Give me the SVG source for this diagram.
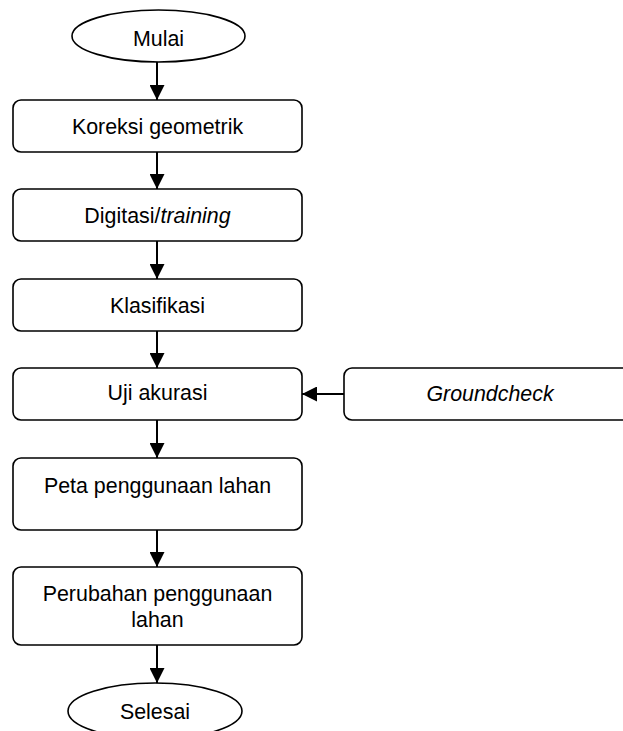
<svg xmlns="http://www.w3.org/2000/svg" width="623" height="731" viewBox="0 0 623 731">
<style>
.box{fill:#fff;stroke:#000;stroke-width:1.6}
.t{font-family:"Liberation Sans",Arial,sans-serif;font-size:21.4px;fill:#000;text-anchor:middle}
.i{font-style:italic}
.c{stroke:#000;stroke-width:2;fill:none}
</style>
<defs>
<marker id="ah" markerUnits="userSpaceOnUse" markerWidth="16" markerHeight="15" refX="15" refY="7.5" orient="auto">
<path d="M0,0 L15,7.5 L0,15 z" fill="#000"/>
</marker>
</defs>
<rect width="623" height="731" fill="#fff"/>
<g id="connectors">
<line class="c" x1="157" y1="62" x2="157" y2="100" marker-end="url(#ah)"/>
<line class="c" x1="157" y1="152" x2="157" y2="189" marker-end="url(#ah)"/>
<line class="c" x1="157" y1="241" x2="157" y2="279" marker-end="url(#ah)"/>
<line class="c" x1="157" y1="331" x2="157" y2="368" marker-end="url(#ah)"/>
<line class="c" x1="157" y1="420" x2="157" y2="458" marker-end="url(#ah)"/>
<line class="c" x1="157" y1="530" x2="157" y2="567" marker-end="url(#ah)"/>
<line class="c" x1="157" y1="645" x2="157" y2="683" marker-end="url(#ah)"/>
<line class="c" x1="344" y1="394" x2="302" y2="394" marker-end="url(#ah)"/>
</g>
<g id="mulai">
<ellipse class="box" cx="158.5" cy="36" rx="86.5" ry="26"/>
<text class="t" x="158.5" y="46">Mulai</text>
</g>
<g id="koreksi">
<rect class="box" x="13" y="100" width="289" height="52" rx="8"/>
<text class="t" x="157.5" y="133.5">Koreksi geometrik</text>
</g>
<g id="digitasi">
<rect class="box" x="13" y="189" width="289" height="52" rx="8"/>
<text class="t" x="157.5" y="222.5">Digitasi/<tspan class="i">training</tspan></text>
</g>
<g id="klasifikasi">
<rect class="box" x="13" y="279" width="289" height="52" rx="8"/>
<text class="t" x="157.5" y="312.5">Klasifikasi</text>
</g>
<g id="uji">
<rect class="box" x="13" y="368" width="289" height="52" rx="8"/>
<text class="t" x="157.5" y="399.5">Uji akurasi</text>
</g>
<g id="groundcheck">
<rect class="box" x="344" y="368" width="292" height="52" rx="8"/>
<text class="t i" x="490" y="400.5">Groundcheck</text>
</g>
<g id="peta">
<rect class="box" x="13" y="458" width="289" height="72" rx="8"/>
<text class="t" x="157.5" y="492.5">Peta penggunaan lahan</text>
</g>
<g id="perubahan">
<rect class="box" x="13" y="567" width="289" height="78" rx="8"/>
<text class="t" x="157.5" y="601">Perubahan penggunaan</text>
<text class="t" x="157.5" y="627">lahan</text>
</g>
<g id="selesai">
<ellipse class="box" cx="155" cy="711" rx="87" ry="28"/>
<text class="t" x="155" y="719">Selesai</text>
</g>
</svg>
